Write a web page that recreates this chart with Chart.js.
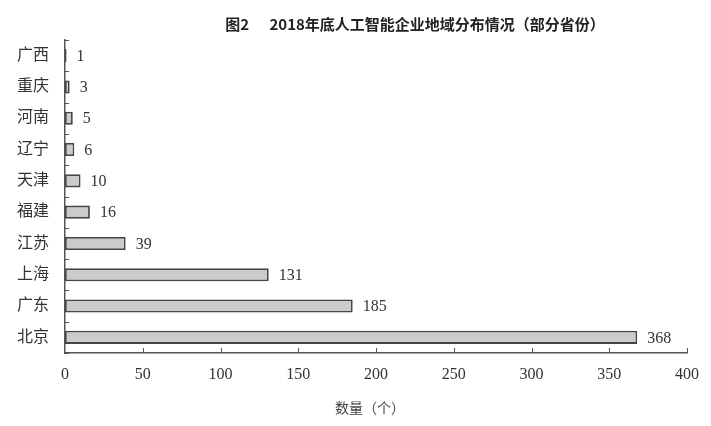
<!DOCTYPE html>
<html>
<head>
<meta charset="utf-8">
<script src="https://cdn.jsdelivr.net/npm/chart.js@4.4.0/dist/chart.umd.min.js"></script>
<style>
  body { margin: 0; background: #fff; }
  #wrap { width: 711px; height: 426px; }
</style>
</head>
<body>
<div id="wrap"><canvas id="aiChart" width="711" height="426"></canvas></div>
<script>
// 2018年底人工智能企业地域分布（部分省份）
const provinces = ['广西', '重庆', '河南', '辽宁', '天津', '福建', '江苏', '上海', '广东', '北京'];
const companyCounts = [1, 3, 5, 6, 10, 16, 39, 131, 185, 368];
const xTicks = [0, 50, 100, 150, 200, 250, 300, 350, 400];

const titleText = '图2      2018年底人工智能企业地域分布情况（部分省份）';
const axisTitle = '数量（个）';

const serif = "'Liberation Serif', 'Noto Sans CJK SC', serif";
const sans = "'Noto Sans CJK SC', 'Noto Sans', sans-serif";

// value labels, little tick marks and the heading
const extras = {
    id: 'extras',
    afterDraw(chart) {
        const c = chart.ctx;
        const x = chart.scales.x;
        const y = chart.scales.y;
        const area = chart.chartArea;

        c.save();
        c.strokeStyle = '#555';
        c.lineWidth = 1;
        // x ticks pointing up
        xTicks.forEach(v => {
            if (v === 0) return;
            const px = Math.round(x.getPixelForValue(v)) + 0.5;
            c.beginPath();
            c.moveTo(px, area.bottom);
            c.lineTo(px, area.bottom - 5);
            c.stroke();
        });
        // y ticks between categories pointing right
        for (let i = 0; i <= provinces.length; i++) {
            const py = Math.round(y.getPixelForValue(i - 0.5)) + 0.5;
            c.beginPath();
            c.moveTo(area.left, py);
            c.lineTo(area.left + 4, py);
            c.stroke();
        }

        // value labels
        const meta = chart.getDatasetMeta(0);
        c.fillStyle = '#333';
        c.font = '16px ' + serif;
        c.textAlign = 'left';
        c.textBaseline = 'middle';
        meta.data.forEach((bar, i) => {
            c.fillText(String(companyCounts[i]), bar.x + 10, bar.y + 1);
        });

        // heading
        c.font = 'bold 15px ' + sans;
        c.fillStyle = '#222';
        c.textAlign = 'center';
        c.fillText(titleText, 415, 24);

        // axis title
        c.font = '14px ' + sans;
        c.fillStyle = '#444';
        c.fillText(axisTitle, 370, 408);
        c.restore();
    }
};

const ctx = document.getElementById('aiChart').getContext('2d');
const aiChart = new Chart(ctx, {
    type: 'bar',
    data: {
        labels: provinces,
        datasets: [{
            data: companyCounts,
            backgroundColor: '#cbcbcb',
            borderColor: '#454545',
            borderWidth: 1.8,
            borderSkipped: false,
            barPercentage: 0.42,
            categoryPercentage: 1
        }]
    },
    options: {
        indexAxis: 'y',
        responsive: false,
        animation: false,
        layout: { padding: { top: 40, right: 24, left: 0, bottom: 0 } },
        plugins: {
            legend: { display: false },
            title: { display: false },
            tooltip: { enabled: false }
        },
        scales: {
            x: {
                min: 0,
                max: 400,
                afterBuildTicks: axis => { axis.ticks = xTicks.map(v => ({ value: v })); },
                afterFit: axis => { axis.height = 73; },
                grid: { display: false, drawTicks: false },
                border: { display: true, color: '#555', width: 1.5 },
                ticks: {
                    padding: 12,
                    color: '#333',
                    font: { family: serif, size: 16 }
                }
            },
            y: {
                afterFit: axis => { axis.width = 65; },
                grid: { display: false, drawTicks: false },
                border: { display: true, color: '#555', width: 1.5 },
                ticks: {
                    padding: 16,
                    color: '#333',
                    font: { family: serif, size: 16 }
                }
            }
        }
    },
    plugins: [extras]
});
</script>
</body>
</html>
